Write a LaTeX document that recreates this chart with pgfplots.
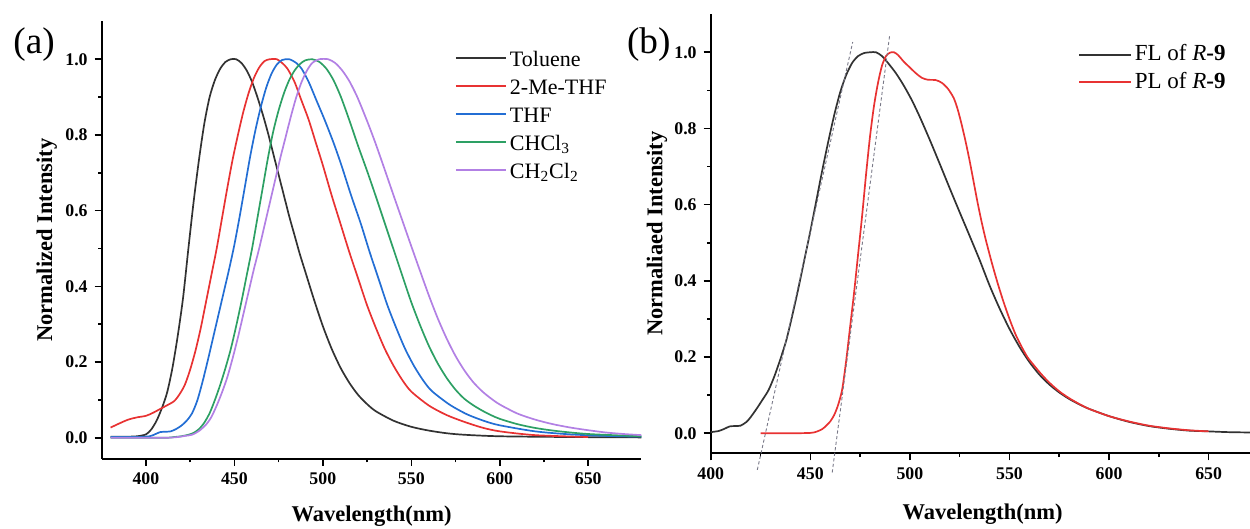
\documentclass[border=0pt]{standalone}
\usepackage{fontspec}
\setmainfont{Liberation Serif}
\usepackage{pgfplots}
\pgfplotsset{compat=1.18}
\definecolor{cblk}{RGB}{50,50,50}
\definecolor{cred}{RGB}{232,50,50}
\definecolor{cblu}{RGB}{35,110,212}
\definecolor{cgrn}{RGB}{45,160,100}
\definecolor{cpur}{RGB}{178,128,228}
\definecolor{cdash}{RGB}{120,120,135}
\pgfplotsset{myax/.style={
  scale only axis,
  axis lines*=left,
  axis line style={-, line width=1pt, black},
  tick align=outside,
  major tick length=3.5pt, minor tick length=1.75pt,
  tick style={black, line width=0.8pt},
  minor x tick num=1, minor y tick num=1,
  xtick={400,450,500,550,600,650},
  ytick={0,0.2,0.4,0.6,0.8,1.0},
  tick label style={font=\fontsize{8.9}{10}\selectfont\bfseries},
  /pgf/number format/assume math mode=true,
  yticklabel style={/pgf/number format/.cd,fixed,fixed zerofill,precision=1},
  xticklabel style={/pgf/number format/.cd,fixed,1000 sep={}},
  label style={font=\fontsize{11.25}{13}\selectfont\bfseries},
  every axis plot/.append style={line width=0.85pt, smooth, tension=0.45},
  legend cell align=left,
}}
\begin{document}
\begin{tikzpicture}
\useasboundingbox (0,0) rectangle (625pt,264.5pt);
% ---------------- panel (a)
\begin{axis}[myax,
  at={(50.85pt,35pt)}, anchor=south west,
  width=269.8pt, height=219pt,
  xmin=375, xmax=680, ymin=-0.056, ymax=1.101,
  xlabel={Wavelength(nm)},
  ylabel={Normalized Intensity},
  xlabel style={at={(axis description cs:0.5,0)}, anchor=base, yshift=-31.35pt},
  ylabel style={at={(axis description cs:-0.1019,0.5)}, anchor=center},
  legend image code/.code={\draw[#1, line width=1pt] (0pt,1.5pt) -- (25pt,1.5pt);},
  legend style={draw=none, fill=none, inner sep=0pt, outer sep=0pt,
    at={(axis description cs:0.6547,0.9413)}, anchor=north west,
    row sep=0pt, column sep=0pt,
    font=\fontsize{11}{13}\selectfont,
    nodes={inner xsep=1.5pt, inner ysep=2pt, text height=8pt, text depth=2pt}},
]
\addplot[cblk] coordinates {
(380,0.003)(390,0.003)(395,0.004)(400,0.009)(403,0.022)(406,0.045)(409,0.078)(412,0.12)
(415,0.185)(418,0.27)(421,0.37)(424,0.5)(427,0.625)(430,0.735)(433,0.83)(436,0.9)
(439,0.945)(442,0.975)(445,0.993)(448,1.0)(451,1.0)(454,0.99)(457,0.97)(460,0.94)
(463,0.9)(466,0.855)(469,0.805)(472,0.75)(475,0.695)(478,0.64)(481,0.585)(484,0.535)
(487,0.485)(490,0.44)(495,0.365)(500,0.295)(505,0.235)(510,0.185)(515,0.145)(520,0.113)
(525,0.089)(530,0.07)(540,0.045)(550,0.029)(560,0.019)(570,0.012)(580,0.008)(600,0.004)
(640,0.002)(680,0.001)};
\addlegendentry{Toluene}
\addplot[cred] coordinates {
(380,0.027)(385,0.038)(390,0.048)(395,0.054)(400,0.058)(404,0.066)(408,0.076)(412,0.086)
(416,0.097)(419,0.115)(422,0.14)(425,0.18)(428,0.23)(431,0.29)(434,0.36)(437,0.43)
(440,0.5)(443,0.58)(446,0.66)(449,0.735)(452,0.8)(455,0.86)(458,0.91)(461,0.95)
(464,0.978)(467,0.995)(470,1.0)(474,1.0)(477,0.99)(480,0.975)(484,0.94)(488,0.89)
(492,0.84)(496,0.78)(500,0.72)(505,0.64)(510,0.565)(515,0.49)(520,0.42)(525,0.35)
(530,0.29)(535,0.235)(540,0.19)(545,0.152)(550,0.122)(560,0.085)(570,0.06)(580,0.042)
(590,0.027)(600,0.017)(620,0.007)(650,0.002)};
\addlegendentry{2-Me-THF}
\addplot[cblu] coordinates {
(380,0.002)(395,0.002)(402,0.004)(405,0.009)(408,0.015)(411,0.016)(414,0.017)(417,0.023)
(420,0.032)(423,0.045)(426,0.064)(429,0.098)(432,0.148)(435,0.205)(438,0.265)(441,0.325)
(444,0.385)(447,0.445)(450,0.51)(453,0.585)(456,0.665)(459,0.745)(462,0.815)(465,0.875)
(468,0.925)(471,0.962)(474,0.986)(477,0.998)(481,1.0)(485,0.99)(488,0.975)(492,0.94)
(496.5,0.89)(501,0.84)(506,0.78)(510.5,0.72)(516,0.64)(521.5,0.565)(526.5,0.49)
(531.5,0.42)(536.5,0.35)(541.5,0.29)(546.5,0.235)(551.5,0.19)(556.5,0.153)(561.5,0.124)
(571.5,0.088)(581.5,0.062)(591.5,0.044)(600,0.033)(620,0.017)(640,0.009)(660,0.005)(680,0.003)};
\addlegendentry{THF}
\addplot[cgrn] coordinates {
(380,0.0)(410,0.0)(416,0.002)(420,0.004)(424,0.008)(427,0.013)(430,0.023)(433,0.04)
(436,0.065)(439,0.1)(442,0.14)(445,0.185)(448,0.235)(451,0.295)(454,0.36)(457,0.43)
(460,0.5)(463,0.58)(466,0.66)(469,0.74)(472,0.81)(475,0.865)(478,0.91)(481,0.945)
(484,0.97)(487,0.987)(490,0.997)(494,1.0)(498,0.993)(502,0.975)(506,0.945)(510,0.903)
(513,0.865)(516,0.825)(520,0.77)(525,0.705)(530,0.637)(535,0.567)(540,0.497)(545,0.427)
(550,0.358)(555,0.297)(560,0.242)(565,0.196)(570,0.158)(575,0.127)(580,0.103)(585,0.086)
(590,0.072)(595,0.06)(600,0.05)(610,0.036)(620,0.026)(632,0.018)(650,0.01)(680,0.004)};
\addlegendentry{CHCl\textsubscript{3}}
\addplot[cpur] coordinates {
(380,0.0)(410,0.0)(418,0.002)(422,0.005)(426,0.008)(430,0.018)(434,0.035)(437,0.055)
(440,0.085)(443,0.12)(446,0.16)(449,0.21)(452,0.265)(455,0.325)(458,0.385)(461,0.445)
(464,0.5)(467,0.56)(470,0.62)(473,0.68)(476,0.74)(479,0.795)(482,0.85)(485,0.9)
(488,0.94)(491,0.97)(494,0.99)(498,1.0)(503,1.0)(507,0.99)(511,0.97)(515,0.942)
(519,0.905)(522,0.872)(526,0.825)(530,0.775)(535,0.708)(540,0.64)(545,0.573)(550,0.506)
(555,0.44)(560,0.375)(565,0.315)(570,0.262)(575,0.216)(580,0.178)(585,0.147)(590,0.123)
(595,0.104)(600,0.088)(610,0.064)(620,0.048)(630,0.036)(640,0.027)(650,0.02)(660,0.014)
(670,0.01)(680,0.007)};
\addlegendentry{CH\textsubscript{2}Cl\textsubscript{2}}
\end{axis}
% ---------------- panel (b)
\begin{axis}[myax,
  at={(355.35pt,37.85pt)}, anchor=south west,
  width=271.9pt, height=219.65pt,
  xmin=400, xmax=673, ymin=-0.0525, ymax=1.1005,
  clip=false,
  xlabel={Wavelength(nm)},
  ylabel={Normaliaed Intensity},
  xlabel style={at={(axis description cs:0.5,0)}, anchor=base, yshift=-33pt},
  ylabel style={at={(axis description cs:-0.0989,0.5)}, anchor=center},
  legend image code/.code={\draw[#1, line width=1pt] (0pt,0pt) -- (25.8pt,0pt);},
  legend style={draw=none, fill=none, inner sep=0pt, outer sep=0pt,
    at={(axis description cs:0.676,0.9392)}, anchor=north west,
    row sep=0pt, column sep=0pt,
    font=\fontsize{11.5}{13}\selectfont,
    nodes={inner xsep=1.5pt, inner ysep=2pt, text height=8pt, text depth=1.85pt}},
]
\addplot[cblk] coordinates {
(400,0.003)(404,0.006)(407,0.012)(409.5,0.018)(412,0.019)(415,0.02)(418,0.03)(420,0.042)
(423,0.064)(426,0.088)(429,0.113)(432,0.15)(435,0.195)(438,0.245)(441,0.31)(444,0.38)
(447,0.455)(450,0.53)(453,0.61)(456,0.69)(459,0.765)(462,0.835)(465,0.895)(468,0.94)
(471,0.972)(474,0.99)(477,0.998)(480,1.0)(483,1.0)(486,0.99)(489,0.972)(493,0.945)
(497,0.912)(501,0.874)(505,0.83)(510,0.77)(515,0.707)(520,0.643)(525,0.58)(530,0.518)
(535,0.455)(540,0.388)(545,0.328)(550,0.274)(555,0.227)(560,0.187)(565,0.154)(570,0.128)
(575,0.107)(580,0.09)(585,0.076)(590,0.064)(600,0.045)(610,0.03)(620,0.019)(630,0.012)
(640,0.007)(650,0.005)(660,0.003)(673,0.002)(680,0.002)};
\addlegendentry{FL of \textit{R}\textbf{-9}}
\addplot[cred] coordinates {
(425,0.0)(440,0.0)(450,0.001)(453,0.004)(456,0.011)(458,0.02)(460,0.031)(462,0.048)
(464,0.075)(466,0.115)(468,0.19)(470,0.28)(472,0.37)(474,0.47)(476,0.57)(478,0.68)
(480,0.78)(482,0.86)(484,0.92)(486,0.965)(488,0.99)(490,0.999)(492,1.0)(494,0.993)
(497,0.975)(500,0.96)(503,0.945)(506,0.933)(509,0.928)(513,0.927)(516,0.92)(519,0.905)
(522,0.88)(524,0.85)(526,0.81)(528,0.765)(530,0.715)(532,0.66)(534,0.605)(536,0.555)
(538,0.51)(541,0.45)(544,0.395)(547,0.345)(550,0.3)(553,0.26)(556,0.228)(559,0.2)
(562,0.18)(566,0.155)(570,0.133)(575,0.11)(580,0.092)(585,0.077)(590,0.064)(600,0.045)
(610,0.031)(620,0.02)(630,0.013)(640,0.008)(650,0.005)};
\addlegendentry{PL of \textit{R}\textbf{-9}}
\addplot[cdash, line width=0.45pt, dash pattern=on 1.6pt off 1.2pt, forget plot]
  coordinates {(423.4,-0.096)(471.3,1.027)};
\addplot[cdash, line width=0.45pt, dash pattern=on 1.6pt off 1.2pt, forget plot]
  coordinates {(461.0,-0.103)(489.9,1.047)};
\end{axis}
\node[anchor=base west, inner sep=0pt, font=\fontsize{18.6}{20}\selectfont] at (6.5pt,237.75pt) {(a)};
\node[anchor=base west, inner sep=0pt, font=\fontsize{18.6}{20}\selectfont] at (313.35pt,237.75pt) {(b)};
\end{tikzpicture}
\end{document}
